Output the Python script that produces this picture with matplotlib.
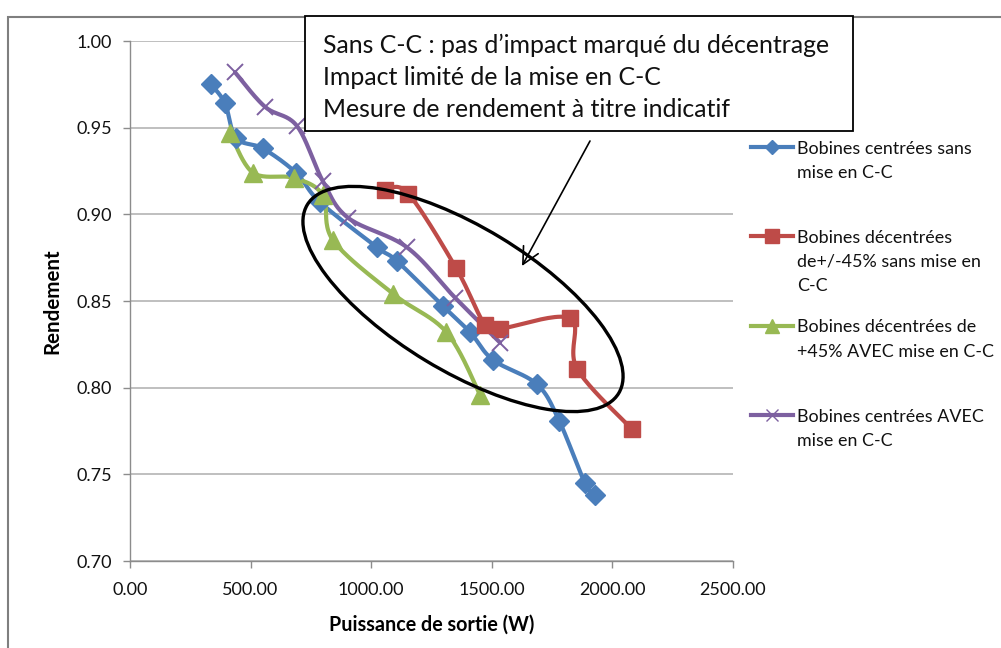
import numpy as np
import matplotlib
matplotlib.use("Agg")
import matplotlib.pyplot as plt
from matplotlib.lines import Line2D
from matplotlib.patches import Rectangle, Ellipse, FancyArrowPatch
from matplotlib.transforms import IdentityTransform

# ---- data ---------------------------------------------------------------
centered_no_cc_x = [336, 394, 440, 551, 688, 788, 1024, 1107, 1298, 1410, 1505, 1687, 1779, 1886, 1928]
centered_no_cc_y = [0.975, 0.964, 0.944, 0.938, 0.924, 0.907, 0.881, 0.873, 0.847, 0.832, 0.816, 0.802, 0.781, 0.745, 0.738]

offset45_no_cc_x = [1057, 1153, 1352, 1472, 1534, 1824, 1853, 2081]
offset45_no_cc_y = [0.914, 0.912, 0.869, 0.836, 0.834, 0.840, 0.811, 0.776]

offset45_cc_x = [415, 510, 680, 800, 842, 1092, 1312, 1451]
offset45_cc_y = [0.947, 0.924, 0.921, 0.911, 0.885, 0.854, 0.832, 0.796]

centered_cc_x = [435, 560, 692, 800, 904, 1148, 1347, 1534]
centered_cc_y = [0.982, 0.962, 0.951, 0.919, 0.898, 0.881, 0.852, 0.826]

series_labels = [
    "Bobines centrées sans\nmise en C-C",
    "Bobines décentrées\nde+/-45% sans mise en\nC-C",
    "Bobines décentrées de\n+45% AVEC mise en C-C",
    "Bobines centrées AVEC\nmise en C-C",
]
series_colors = ["#4A7EBB", "#BE4B48", "#98B954", "#7D60A0"]

x_ticks = [0, 500, 1000, 1500, 2000, 2500]
y_ticks = [0.70, 0.75, 0.80, 0.85, 0.90, 0.95, 1.00]
x_label = "Puissance de sortie (W)"
y_label = "Rendement"
note_lines = [
    "Sans C-C : pas d\u2019impact marqué du décentrage",
    "Impact limité de la mise en C-C",
    "Mesure de rendement à titre indicatif",
]

# ---- figure -------------------------------------------------------------
W, H = 1001, 648
plt.rcParams["font.family"] = ["Lato", "DejaVu Sans"]

fig = plt.figure(figsize=(W / 100, H / 100), dpi=100)
fig.patch.set_facecolor("white")


def fx(px):
    return px / W


def fy(py):
    return 1 - py / H


ax = fig.add_axes([fx(130), fy(561), fx(733) - fx(130), fy(41) - fy(561)])
ax.set_xlim(0, 2500)
ax.set_ylim(0.70, 1.00)
ax.set_xticks(x_ticks)
ax.set_yticks(y_ticks)
ax.set_xticklabels([f"{v:.2f}" for v in x_ticks])
ax.set_yticklabels([f"{v:.2f}" for v in y_ticks])

grey = "#8C8C8C"
for side in ("top", "right"):
    ax.spines[side].set_visible(False)
for side in ("left", "bottom"):
    ax.spines[side].set_color(grey)
    ax.spines[side].set_linewidth(1.0)
ax.yaxis.grid(True, color="#B4B4B4", linewidth=1.2)
ax.set_axisbelow(True)
ax.tick_params(axis="both", direction="out", color=grey, length=5, width=1.0,
               labelsize=13, labelcolor="#111111")
ax.tick_params(axis="y", pad=8)
ax.tick_params(axis="x", pad=10)

ax.set_xlabel(x_label, fontsize=14.2, fontweight="bold", labelpad=12)
ax.set_ylabel(y_label, fontsize=14.8, fontweight="bold", labelpad=10)


def smooth_curve(xs, ys, steps=24):
    """Bezier smoothing through the points, computed in screen space."""
    pts = ax.transData.transform(np.column_stack([xs, ys]))
    n = len(pts)
    out = []
    for i in range(n - 1):
        p0 = pts[i - 1] if i > 0 else pts[i]
        p1 = pts[i]
        p2 = pts[i + 1]
        p3 = pts[i + 2] if i + 2 < n else pts[i + 1]
        c1 = p1 + (p2 - p0) / 6.0
        c2 = p2 - (p3 - p1) / 6.0
        t = np.linspace(0, 1, steps)[:, None]
        seg = ((1 - t) ** 3) * p1 + 3 * ((1 - t) ** 2) * t * c1 + 3 * (1 - t) * t ** 2 * c2 + t ** 3 * p2
        out.append(seg if i == 0 else seg[1:])
    curve = np.vstack(out)
    return ax.transData.inverted().transform(curve)


series = [
    (centered_no_cc_x, centered_no_cc_y, "D", 10, {}),
    (offset45_no_cc_x, offset45_no_cc_y, "s", 12, {}),
    (offset45_cc_x, offset45_cc_y, "^", 13, {}),
    (centered_cc_x, centered_cc_y, "x", 12, {"markeredgewidth": 1.4}),
]

for (xs, ys, mk, ms, extra), color in zip(series, series_colors):
    c = smooth_curve(xs, ys)
    ax.plot(c[:, 0], c[:, 1], color=color, linewidth=3, solid_capstyle="round", zorder=3)
    ax.plot(xs, ys, linestyle="none", marker=mk, markersize=ms, color=color,
            markeredgecolor=color, zorder=4, **extra)

# legend on the right, one entry every ~89 px
legend_rows = [147, 236, 326, 415]
legend_markers = [("D", 7, {}), ("s", 10, {}), ("^", 10, {}), ("x", 9, {"markeredgewidth": 1.0})]
for row, color, label, (mk, ms, extra) in zip(legend_rows, series_colors, series_labels, legend_markers):
    fig.add_artist(Line2D([fx(751), fx(793)], [fy(row), fy(row)], color=color,
                          linewidth=3, transform=fig.transFigure))
    fig.add_artist(Line2D([fx(772)], [fy(row)], marker=mk, markersize=ms, color=color,
                          markeredgecolor=color, linestyle="none",
                          transform=fig.transFigure, **extra))
    for k, line in enumerate(label.split("\n")):
        fig.text(fx(797), fy(row + 6.5 + 24.4 * k), line, fontsize=12.9,
                 va="baseline", ha="left", color="#111111")

# outer chart frame
fig.add_artist(Rectangle((fx(8), fy(670)), fx(1030) - fx(8), fy(17) - fy(670),
                         transform=fig.transFigure, fill=False, edgecolor="#7F7F7F",
                         linewidth=1.5, zorder=0))

# highlight ellipse around the cluster of curves (figure pixels, y up)
ell = Ellipse((463, H - 299), width=364, height=144, angle=-31.2,
              fill=False, edgecolor="black", linewidth=2.4)
ell.set_transform(IdentityTransform())
fig.add_artist(ell)

# arrow pointing at the ellipse
arrow = FancyArrowPatch((590, H - 141), (522, H - 266), arrowstyle="->,head_length=12,head_width=6",
                        color="black", linewidth=1.2, transform=IdentityTransform(),
                        shrinkA=0, shrinkB=0)
fig.add_artist(arrow)

# note box
fig.add_artist(Rectangle((fx(305), fy(131)), fx(853) - fx(305), fy(16) - fy(131),
                         transform=fig.transFigure, facecolor="white", edgecolor="black",
                         linewidth=1.3, zorder=5))
for k, line in enumerate(note_lines):
    fig.text(fx(323), fy(52.7 + 32.3 * k), line, fontsize=17.9, va="baseline", ha="left",
             color="#111111", zorder=6)

fig.savefig("out.png", dpi=100)
